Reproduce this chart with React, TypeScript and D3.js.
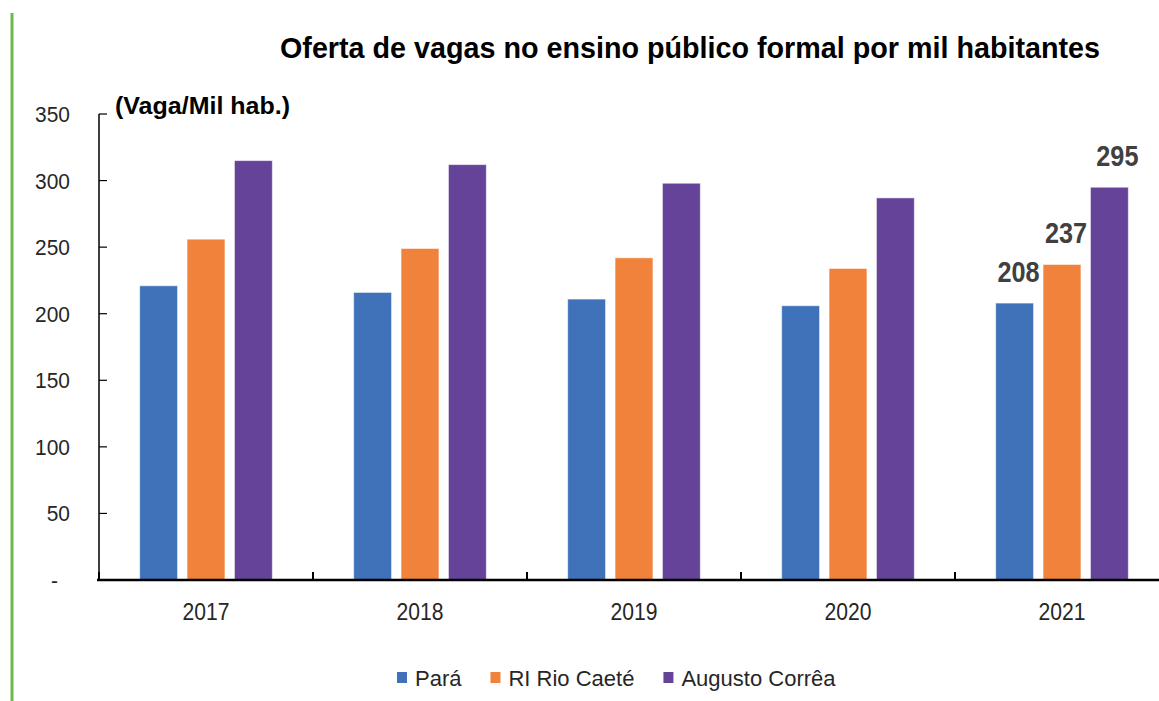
import React, { useEffect, useRef } from "react";
import * as d3 from "d3";

// dados (Vaga/Mil hab.)
const years = ["2017", "2018", "2019", "2020", "2021"];
const seriesNames = ["Pará", "RI Rio Caeté", "Augusto Corrêa"];
const para = [221, 216, 211, 206, 208];
const riCaete = [256, 249, 242, 234, 237];
const augustoCorrea = [315, 312, 298, 287, 295];
const yTicks = [0, 50, 100, 150, 200, 250, 300, 350];
const labeledYear = "2021";

const colors = ["#3F72B8", "#F1823B", "#644398"];
const font = "'Liberation Sans', Arial, sans-serif";

// aperta o texto na horizontal (fonte estreita do original)
const condense = (sel: any, k: number) => {
  sel.each(function (this: SVGTextElement) {
    const w = this.getComputedTextLength();
    d3.select(this).attr("textLength", w * k).attr("lengthAdjust", "spacingAndGlyphs");
  });
};

const App = () => {
  const ref = useRef<SVGSVGElement>(null);
  const width = 1159,
    height = 701;
  const margin = { left: 99, top: 114, bottom: 580 };

  useEffect(() => {
    const svg = d3.select(ref.current);
    svg.selectAll("*").remove();

    const values = [para, riCaete, augustoCorrea];
    const rows = years.map((y, i) => ({
      year: y,
      vals: values.map((v, s) => ({ s, name: seriesNames[s], value: v[i] })),
    }));

    // barra verde na lateral
    svg
      .append("line")
      .attr("x1", 12)
      .attr("x2", 12)
      .attr("y1", 13)
      .attr("y2", height)
      .attr("stroke", "#6cbb50")
      .attr("stroke-width", 3);

    const x0 = d3
      .scaleBand()
      .domain(years)
      .range([margin.left, margin.left + 1070])
      .paddingInner(0.38)
      .paddingOuter(0.19);
    const x1 = d3
      .scaleBand()
      .domain(seriesNames)
      .range([0, x0.bandwidth()])
      .paddingInner(0.2);
    const y = d3.scaleLinear().domain([0, 350]).range([margin.bottom, margin.top]);

    // título
    svg
      .append("text")
      .attr("x", 280)
      .attr("y", 58)
      .attr("textLength", 820)
      .attr("lengthAdjust", "spacingAndGlyphs")
      .attr("font-family", font)
      .attr("font-weight", "bold")
      .attr("font-size", 30)
      .attr("fill", "#000")
      .text("Oferta de vagas no ensino público formal por mil habitantes");

    svg
      .append("text")
      .attr("x", 115)
      .attr("y", 114)
      .attr("textLength", 175)
      .attr("lengthAdjust", "spacingAndGlyphs")
      .attr("font-family", font)
      .attr("font-weight", "bold")
      .attr("font-size", 24)
      .attr("fill", "#000")
      .text("(Vaga/Mil hab.)");

    // barras
    const g = svg
      .selectAll("g.grp")
      .data(rows)
      .join("g")
      .attr("class", "grp")
      .attr("transform", (d) => `translate(${x0(d.year)},0)`);

    g.selectAll("rect")
      .data((d) => d.vals)
      .join("rect")
      .attr("x", (d) => x1(d.name)!)
      .attr("y", (d) => y(d.value))
      .attr("width", x1.bandwidth())
      .attr("height", (d) => y(0) - y(d.value))
      .attr("fill", (d) => colors[d.s])
      .attr("stroke", "rgba(255,255,255,0.55)")
      .attr("stroke-width", 1);

    const vals = g
      .filter((d) => d.year === labeledYear)
      .selectAll("text.val")
      .data((d) => d.vals)
      .join("text")
      .attr("class", "val")
      .attr("x", (d, i) => x1(d.name)! + x1.bandwidth() / 2 + (i === 2 ? 8 : 4))
      .attr("y", (d) => y(d.value) - 21)
      .attr("text-anchor", "middle")
      .attr("font-family", font)
      .attr("font-weight", "bold")
      .attr("font-size", 29)
      .attr("fill", "#404040")
      .text((d) => d.value);
    condense(vals, 0.87);

    // eixo y
    const yAxis = svg.append("g");
    yAxis
      .append("line")
      .attr("x1", margin.left)
      .attr("x2", margin.left)
      .attr("y1", y(350))
      .attr("y2", y(0))
      .attr("stroke", "#000")
      .attr("stroke-width", 1.5);
    yAxis
      .selectAll("line.tick")
      .data(yTicks.filter((t) => t > 0))
      .join("line")
      .attr("class", "tick")
      .attr("x1", margin.left)
      .attr("x2", margin.left + 8)
      .attr("y1", (d) => y(d))
      .attr("y2", (d) => y(d))
      .attr("stroke", "#000")
      .attr("stroke-width", 1.2);
    const yl = yAxis
      .selectAll("text")
      .data(yTicks)
      .join("text")
      .attr("x", (d) => (d === 0 ? 58 : 70))
      .attr("y", (d) => y(d) + 8)
      .attr("text-anchor", "end")
      .attr("font-family", font)
      .attr("font-size", 22)
      .attr("fill", "#262626")
      .text((d) => (d === 0 ? "-" : d));
    condense(yl, 0.95);

    // eixo x
    const xAxis = svg.append("g");
    xAxis
      .append("line")
      .attr("x1", margin.left - 2)
      .attr("x2", width)
      .attr("y1", y(0))
      .attr("y2", y(0))
      .attr("stroke", "#000")
      .attr("stroke-width", 2.5);
    const gapHalf = (x0.step() - x0.bandwidth()) / 2;
    xAxis
      .selectAll("line.tick")
      .data(years)
      .join("line")
      .attr("class", "tick")
      .attr("x1", (d) => x0(d)! - gapHalf)
      .attr("x2", (d) => x0(d)! - gapHalf)
      .attr("y1", y(0))
      .attr("y2", y(0) - 8)
      .attr("stroke", "#000")
      .attr("stroke-width", 2);
    const xl = xAxis
      .selectAll("text")
      .data(years)
      .join("text")
      .attr("x", (d) => x0(d)! + x0.bandwidth() / 2)
      .attr("y", 620)
      .attr("text-anchor", "middle")
      .attr("font-family", font)
      .attr("font-size", 24)
      .attr("fill", "#262626")
      .text((d) => d);
    condense(xl, 0.88);

    // legenda
    const leg = svg.append("g");
    let lx = 397;
    seriesNames.forEach((name, i) => {
      leg
        .append("rect")
        .attr("x", lx)
        .attr("y", 672)
        .attr("width", 10)
        .attr("height", 11)
        .attr("fill", colors[i]);
      const t = leg
        .append("text")
        .attr("x", lx + 18)
        .attr("y", 686)
        .attr("font-family", font)
        .attr("font-size", 22)
        .attr("fill", "#262626")
        .text(name);
      const w = (t.node() as SVGTextElement).getComputedTextLength();
      lx += 18 + w + 29;
    });
  }, []);

  return (
    <svg
      ref={ref}
      width={width}
      height={height}
      style={{ position: "absolute", left: 0, top: 0, background: "white" }}
    ></svg>
  );
};

export default App;
